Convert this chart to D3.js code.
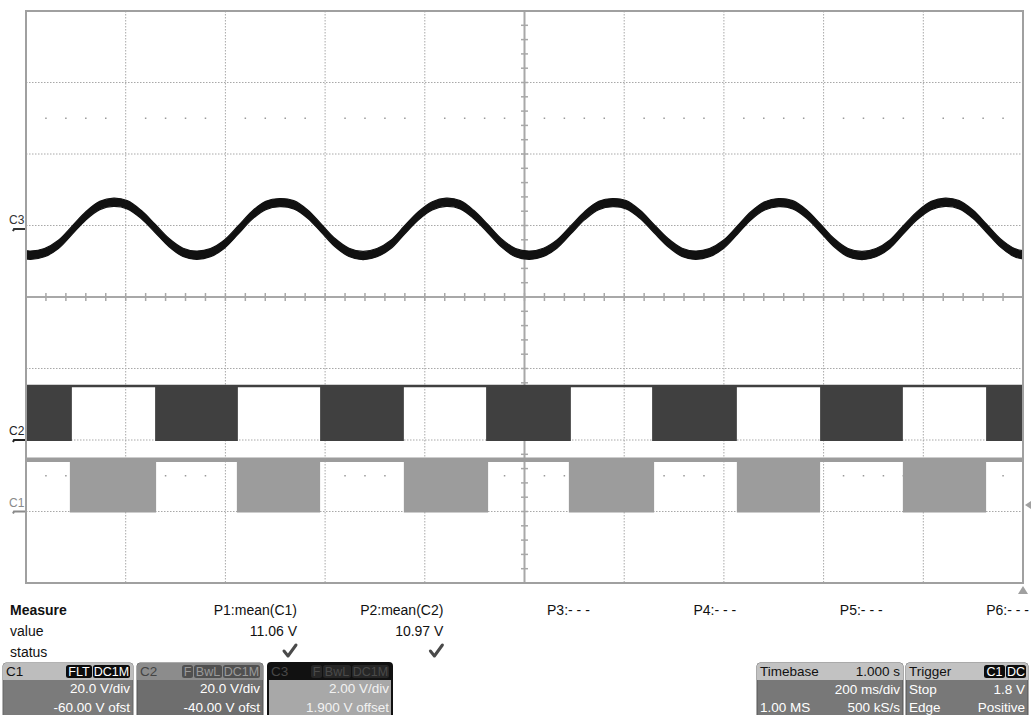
<!DOCTYPE html>
<html><head><meta charset="utf-8">
<script src="https://cdn.jsdelivr.net/npm/d3@7"></script>
<style>
body{margin:0;background:#fff;}
svg{display:block;font-family:"Liberation Sans",Arial,sans-serif;}
</style>
</head><body>
<svg id="c" width="1031" height="715"></svg>
<script>
// ---------- DATA ----------
const timeDomain = [0, 2000]; // ms, 10 div x 200 ms/div
// C3 (2 V/div, 1.900 V offset) sine-like trace
const c3Times = [0,9,37,65,92,120,148,176,203,231,259,287,315,
  342,370,398,426,453,481,509,537,565,592,620,648,
  676,704,732,759,787,815,843,871,898,926,954,982,
  1010,1038,1065,1093,1121,1149,1177,1204,1232,1260,1288,1316,
  1343,1371,1399,1427,1454,1482,1510,1538,1566,1594,1621,1649,
  1677,1705,1733,1760,1788,1816,1844,1872,1900,1927,1955,1983,2000];
const c3Volts = [-0.72,-0.73,-0.66,-0.43,-0.04,0.37,0.66,0.75,0.68,0.41,0.02,-0.38,-0.65,
  -0.73,-0.66,-0.42,-0.02,0.38,0.66,0.74,0.68,0.42,0.03,-0.38,-0.65,
  -0.74,-0.66,-0.43,-0.03,0.37,0.65,0.75,0.68,0.41,0.02,-0.39,-0.66,
  -0.73,-0.65,-0.42,-0.02,0.38,0.66,0.74,0.68,0.41,0.01,-0.38,-0.65,
  -0.73,-0.66,-0.43,-0.03,0.37,0.65,0.74,0.68,0.42,0.02,-0.38,-0.66,
  -0.74,-0.66,-0.42,-0.02,0.38,0.66,0.75,0.68,0.41,0.02,-0.39,-0.66,-0.72];
const c3Noise = 0.115; // V, half-height of the noisy trace band
// C2 (20 V/div, -40 V ofst): high level and switching (filled) intervals, ms
const c2High = 15.1;
const c2FillStart = [0,259,590,923,1256,1593,1926];
const c2FillEnd   = [92,425,758,1093,1426,1759,2000];
// C1 (20 V/div, -60 V ofst)
const c1High = 14.5;
const c1FillStart = [88,423,758,1089,1426,1759];
const c1FillEnd   = [261,590,927,1260,1593,1926];
const triggerLevel = 1.8; // V on C1

// Measurement table
const measureLabels = ["P1:mean(C1)","P2:mean(C2)","P3:- - -","P4:- - -","P5:- - -","P6:- - -"];
const measureValues = ["11.06 V","10.97 V","","","",""];
const measureStatus = [true,true,false,false,false,false];

// Channel descriptor boxes
const chanNames = ["C1","C2","C3"];
const chanTags = [["FLT","DC1M"],["F","BwL","DC1M"],["F","BwL","DC1M"]];
const chanScale = ["20.0 V/div","20.0 V/div","2.00 V/div"];
const chanOffset = ["-60.00 V ofst","-40.00 V ofst","1.900 V offset"];

// ---------- DRAW ----------
const svg = d3.select("#c");
const L=26, R=1023, T=11, B=583;
const xT = d3.scaleLinear().domain(timeDomain).range([L,R]);
const gx = d3.scaleLinear().domain([0,10]).range([L,R]);
const gy = d3.scaleLinear().domain([0,8]).range([T,B]);
const yC3 = d3.scaleLinear().domain([-1.9-8, -1.9+8]).range([B,T]);
const yC2 = d3.scaleLinear().domain([40-80, 40+80]).range([B,T]);
const yC1 = d3.scaleLinear().domain([60-80, 60+80]).range([B,T]);

const grid = svg.append("g");
// dotted grid
d3.range(1,10).filter(i=>i!==5).forEach(i=>{
  grid.append("line").attr("x1",gx(i)).attr("x2",gx(i)).attr("y1",T).attr("y2",B)
    .attr("stroke","#a8a8a8").attr("stroke-width",1).attr("stroke-dasharray","1.5,1.5");
});
d3.range(1,8).filter(i=>i!==4).forEach(i=>{
  grid.append("line").attr("x1",L).attr("x2",R).attr("y1",gy(i)).attr("y2",gy(i))
    .attr("stroke","#a8a8a8").attr("stroke-width",1).attr("stroke-dasharray","1.5,1.5");
});
// sub-division dots rows
[1.5,6.5].forEach(r=>{
  d3.range(1,50).filter(k=>k%5!==0).forEach(k=>{
    grid.append("rect").attr("x",gx(k/5)-0.75).attr("y",gy(r)-0.75).attr("width",1.5).attr("height",1.5).attr("fill","#999");
  });
});
// center axes
grid.append("line").attr("x1",L).attr("x2",R).attr("y1",gy(4)).attr("y2",gy(4)).attr("stroke","#a8a8a8").attr("stroke-width",2);
grid.append("line").attr("x1",gx(5)).attr("x2",gx(5)).attr("y1",T).attr("y2",B).attr("stroke","#a8a8a8").attr("stroke-width",2);
d3.range(1,50).forEach(k=>{
  grid.append("line").attr("x1",gx(k/5)).attr("x2",gx(k/5)).attr("y1",gy(4)-4).attr("y2",gy(4)+4).attr("stroke","#a8a8a8").attr("stroke-width",1.5);
});
d3.range(1,40).forEach(k=>{
  grid.append("line").attr("x1",gx(5)-3.5).attr("x2",gx(5)+3.5).attr("y1",gy(k/5)).attr("y2",gy(k/5)).attr("stroke","#a8a8a8").attr("stroke-width",1.5);
});

// C2 trace
const c2 = svg.append("g");
c2FillStart.forEach((s,i)=>{
  c2.append("rect").attr("x",xT(s)).attr("width",xT(c2FillEnd[i])-xT(s))
    .attr("y",yC2(c2High)).attr("height",yC2(0)-yC2(c2High)+1).attr("fill","#404040");
});
c2.append("line").attr("x1",xT(timeDomain[0])).attr("x2",xT(timeDomain[1])).attr("y1",yC2(c2High)).attr("y2",yC2(c2High))
  .attr("stroke","#404040").attr("stroke-width",2.5);

// C1 trace
const c1 = svg.append("g");
c1FillStart.forEach((s,i)=>{
  c1.append("rect").attr("x",xT(s)).attr("width",xT(c1FillEnd[i])-xT(s))
    .attr("y",yC1(c1High)).attr("height",yC1(0)-yC1(c1High)+1).attr("fill","#9c9c9c");
});
c1.append("line").attr("x1",xT(timeDomain[0])).attr("x2",xT(timeDomain[1])).attr("y1",yC1(c1High)).attr("y2",yC1(c1High))
  .attr("stroke","#9c9c9c").attr("stroke-width",4.5);

// C3 trace: noisy band drawn as an area of constant vertical height
const c3data = c3Times.map((t,i)=>({t, v:c3Volts[i]}));
svg.append("path").datum(c3data)
  .attr("d", d3.area().x(d=>xT(d.t)).y0(d=>yC3(d.v-c3Noise)).y1(d=>yC3(d.v+c3Noise)).curve(d3.curveCatmullRom))
  .attr("fill","#111").attr("stroke","#111").attr("stroke-width",1.2).attr("stroke-linejoin","round");

// frame
svg.append("rect").attr("x",L).attr("y",T).attr("width",R-L).attr("height",B-T)
  .attr("fill","none").attr("stroke","#a0a0a0").attr("stroke-width",2);

// channel labels & ground markers
const chanMarks = [{n:"C3", y:yC3(0), c:"#333"},{n:"C2", y:yC2(0), c:"#222"},{n:"C1", y:yC1(0), c:"#8a8a8a"}];
chanMarks.forEach(m=>{
  svg.append("text").attr("x",9).attr("y",m.y-5).attr("font-size",12).attr("fill",m.c).text(m.n);
  svg.append("path").attr("d",`M13,${m.y+2} L14,${m.y} L25,${m.y}`).attr("fill","none").attr("stroke",m.c).attr("stroke-width",2);
});
// trigger level marker (right) and trigger position marker (bottom)
const ty = yC1(triggerLevel);
svg.append("path").attr("d",`M1025,${ty} L1031,${ty-4} L1031,${ty+4} Z`).attr("fill","#a0a0a0");
svg.append("path").attr("d",`M${R},${B+3} L${R+5},${B+11} L${R-5},${B+11} Z`).attr("fill","#a0a0a0");

// ---------- Measurement table ----------
const mt = svg.append("g").attr("font-size",14).attr("fill","#111");
mt.append("text").attr("x",10).attr("y",615).attr("font-weight","bold").text("Measure");
mt.append("text").attr("x",10).attr("y",636).text("value");
mt.append("text").attr("x",10).attr("y",657).text("status");
const colX = d3.scaleLinear().domain([0,5]).range([297,1029]);
measureLabels.forEach((lab,i)=>{
  mt.append("text").attr("x",colX(i)).attr("y",615).attr("text-anchor","end").text(lab);
  if(measureValues[i]) mt.append("text").attr("x",colX(i)).attr("y",636).attr("text-anchor","end").text(measureValues[i]);
  if(measureStatus[i]){
    const cx = colX(i);
    svg.append("path").attr("d",`M${cx-13},${651} L${cx-9},${656} L${cx-1},${645}`).attr("fill","none")
      .attr("stroke","#4a4a4a").attr("stroke-width",3).attr("stroke-linecap","round").attr("stroke-linejoin","round");
  }
});

// ---------- descriptor boxes ----------
function tag(g, x, y, w, txt, bg, fg){
  g.append("rect").attr("x",x).attr("y",y).attr("width",w).attr("height",13).attr("rx",2.5).attr("fill",bg);
  g.append("text").attr("x",x+w/2).attr("y",y+11).attr("text-anchor","middle").attr("font-size",12.5).attr("fill",fg).text(txt);
}
const boxX = [3,137,268];
const boxW = [130,126,124];
const boxStyle = [
  {head:"#bdbdbd", headTxt:"#111", tagBg:"#0c0c0c", tagFg:"#fff", body:"#7b7b7b", bodyTxt:"#fff", border:"#666"},
  {head:"#8c8c8c", headTxt:"#444", tagBg:"#505050", tagFg:"#9a9a9a", body:"#6e6e6e", bodyTxt:"#fff", border:"#555"},
  {head:"#111111", headTxt:"#484848", tagBg:"#262626", tagFg:"#4a4a4a", body:"#a8a8a8", bodyTxt:"#f2f2f2", border:"#111"}
];
const tagW = {"FLT":27,"DC1M":38,"F":12,"BwL":29};
chanNames.forEach((n,i)=>{
  const g = svg.append("g");
  const x=boxX[i], w=boxW[i], st=boxStyle[i], y=663;
  g.append("rect").attr("x",x).attr("y",y).attr("width",w).attr("height",60).attr("rx",3).attr("fill",st.body).attr("stroke",st.border).attr("stroke-width",i===2?2:1);
  g.append("path").attr("d",`M${x+3},${y} H${x+w-3} Q${x+w},${y} ${x+w},${y+3} V${y+17} H${x} V${y+3} Q${x},${y} ${x+3},${y} Z`).attr("fill",st.head);
  g.append("text").attr("x",x+3).attr("y",y+13).attr("font-size",13.5).attr("fill",st.headTxt).text(n);
  let tx = x+w-2;
  chanTags[i].slice().reverse().forEach(t=>{
    tx -= tagW[t];
    tag(g, tx, y+2, tagW[t]-1, t, st.tagBg, st.tagFg);
  });
  g.append("text").attr("x",x+w-3).attr("y",y+30).attr("text-anchor","end").attr("font-size",13.5).attr("fill",st.bodyTxt).text(chanScale[i]);
  g.append("text").attr("x",x+w-3).attr("y",y+49).attr("text-anchor","end").attr("font-size",13.5).attr("fill",st.bodyTxt).text(chanOffset[i]);
});

// Timebase box
const tbRows = [["Timebase","1.000 s"],["","200 ms/div"],["1.00 MS","500 kS/s"]];
const trRows = [["Trigger",""],["Stop","1.8 V"],["Edge","Positive"]];
const trTags = ["C1","DC"];
function infoBox(x,w,rows){
  const g = svg.append("g"), y=663;
  g.append("rect").attr("x",x).attr("y",y).attr("width",w).attr("height",60).attr("rx",3).attr("fill","#787878").attr("stroke","#555");
  g.append("path").attr("d",`M${x+3},${y} H${x+w-3} Q${x+w},${y} ${x+w},${y+3} V${y+17} H${x} V${y+3} Q${x},${y} ${x+3},${y} Z`).attr("fill","#c2c2c2");
  rows.forEach((r,k)=>{
    const yy = y+13+k*18;
    const col = k===0?"#111":"#fff";
    if(r[0]) g.append("text").attr("x",x+3).attr("y",yy).attr("font-size",13.5).attr("fill",col).text(r[0]);
    if(r[1]) g.append("text").attr("x",x+w-3).attr("y",yy).attr("text-anchor","end").attr("font-size",13.5).attr("fill",col).text(r[1]);
  });
  return g;
}
infoBox(757,146,tbRows);
const trg = infoBox(906,122,trRows);
tag(trg, 984, 665, 21, trTags[0], "#0c0c0c", "#fff");
tag(trg, 1006, 665, 20, trTags[1], "#0c0c0c", "#fff");
</script>
</body></html>
